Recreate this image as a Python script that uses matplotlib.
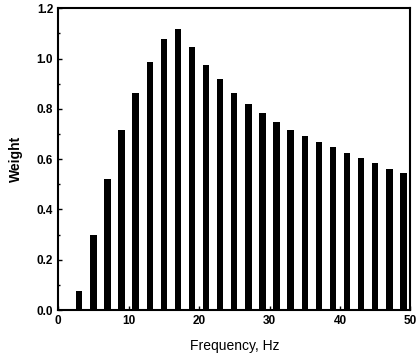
import matplotlib
matplotlib.use("Agg")
import matplotlib.pyplot as plt
from matplotlib.ticker import MultipleLocator

## weights, one bar every 2 Hz
freq = [3, 5, 7, 9, 11, 13, 15, 17, 19, 21, 23, 25, 27, 29, 31, 33, 35, 37, 39, 41, 43, 45, 47, 49]
weight = [0.077, 0.298, 0.521, 0.716, 0.862, 0.985, 1.077, 1.117, 1.046, 0.975, 0.918, 0.863,
          0.819, 0.782, 0.747, 0.716, 0.693, 0.669, 0.647, 0.626, 0.606, 0.583, 0.560, 0.544]

plt.rcParams['font.family'] = ['Liberation Sans', 'DejaVu Sans']

fig = plt.figure(figsize=(4.18, 3.56), dpi=100)
ax = fig.add_axes([0.139, 0.129, 0.843, 0.848])
ax.bar(freq, weight, width=0.9, color='black')

ax.set_xlim(0, 50)
ax.set_ylim(0, 1.2)
ax.xaxis.set_major_locator(MultipleLocator(10))
ax.xaxis.set_minor_locator(MultipleLocator(5))
ax.yaxis.set_major_locator(MultipleLocator(0.2))
ax.yaxis.set_minor_locator(MultipleLocator(0.1))
ax.yaxis.set_major_formatter(plt.FormatStrFormatter('%.1f'))
ax.tick_params(which='both', direction='in', labelsize=8.5)
ax.tick_params(which='major', length=3, width=1)
ax.tick_params(which='minor', length=1.5, width=1)
for lbl in ax.get_xticklabels() + ax.get_yticklabels():
    lbl.set_fontweight('bold')
for s in ax.spines.values():
    s.set_linewidth(1.5)

ax.set_xlabel("Frequency, Hz", fontsize=10, labelpad=9)
ax.set_ylabel("Weight", fontsize=10, fontweight='bold', labelpad=10)

fig.savefig("out.png", dpi=100)
